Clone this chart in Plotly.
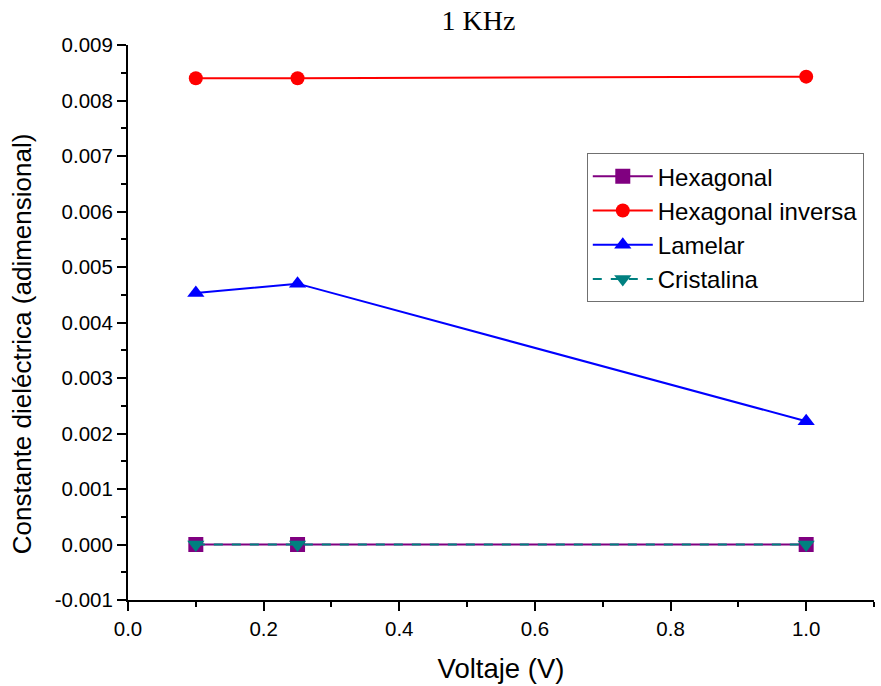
import plotly.graph_objects as go

# Voltage sweep (V)
voltaje = [0.1, 0.25, 1.0]

# Dielectric constant for each mesophase at 1 kHz
hexagonal = [0.0, 0.0, 0.0]
hexagonal_inversa = [0.00840, 0.00840, 0.00843]
lamelar = [0.00453, 0.00470, 0.00222]
cristalina = [0.0, 0.0, 0.0]

y_ticks = [-0.001, 0.000, 0.001, 0.002, 0.003, 0.004, 0.005, 0.006, 0.007, 0.008, 0.009]
y_tick_labels = ["-0.001", "0.000", "0.001", "0.002", "0.003", "0.004",
                 "0.005", "0.006", "0.007", "0.008", "0.009"]
x_ticks = [0.0, 0.2, 0.4, 0.6, 0.8, 1.0]
x_tick_labels = ["0.0", "0.2", "0.4", "0.6", "0.8", "1.0"]

sans = "Liberation Sans, Arial, sans-serif"

fig = go.Figure()
fig.add_trace(go.Scatter(
    x=voltaje, y=hexagonal, name="Hexagonal", mode="lines+markers",
    line=dict(color="#800080", width=2),
    marker=dict(symbol="square", size=15, color="#800080"),
))
fig.add_trace(go.Scatter(
    x=voltaje, y=hexagonal_inversa, name="Hexagonal inversa", mode="lines+markers",
    line=dict(color="#ff0000", width=2),
    marker=dict(symbol="circle", size=14, color="#ff0000"),
))
fig.add_trace(go.Scatter(
    x=voltaje, y=lamelar, name="Lamelar", mode="lines+markers",
    line=dict(color="#0000ff", width=2),
    marker=dict(symbol="triangle-up", size=15, color="#0000ff"),
))
fig.add_trace(go.Scatter(
    x=voltaje, y=cristalina, name="Cristalina", mode="lines+markers",
    line=dict(color="#008080", width=2, dash="dash"),
    marker=dict(symbol="triangle-down", size=15, color="#008080"),
))

axis_common = dict(
    showline=True, linecolor="black", linewidth=2,
    ticks="outside", ticklen=9, tickwidth=2, tickcolor="black",
    showgrid=False, zeroline=False, mirror=False,
    tickfont=dict(family=sans, size=20.5, color="black"),
)

fig.update_layout(
    width=881, height=686,
    margin=dict(l=128, r=7, t=45, b=86),
    paper_bgcolor="white", plot_bgcolor="white",
    title=dict(text="1 KHz", x=0.543, xanchor="center", y=0.970, yanchor="middle",
               font=dict(family="Liberation Serif, Times New Roman, serif", size=28, color="black")),
    xaxis=dict(
        range=[0, 1.1], tickvals=x_ticks, ticktext=x_tick_labels,
        minor=dict(ticks="outside", ticklen=5, tickwidth=2, tickcolor="black", dtick=0.1, tick0=0),
        title=dict(text="Voltaje (V)", font=dict(family=sans, size=27.5, color="black"), standoff=20),
        **axis_common,
    ),
    yaxis=dict(
        range=[-0.001, 0.009], tickvals=y_ticks, ticktext=y_tick_labels,
        minor=dict(ticks="outside", ticklen=5, tickwidth=2, tickcolor="black", dtick=0.0005, tick0=0),
        **axis_common,
    ),
    annotations=[dict(
        text="Constante dieléctrica (adimensional)",
        xref="paper", yref="paper", x=-0.142, y=0.461,
        xanchor="center", yanchor="middle", textangle=-90, showarrow=False,
        font=dict(family=sans, size=26, color="black"),
    )],
    legend=dict(
        x=0.615, y=0.805, xanchor="left", yanchor="top",
        bgcolor="white", bordercolor="#707070", borderwidth=1,
        font=dict(family=sans, size=24, color="black"),
        itemwidth=60, tracegroupgap=0,
    ),
    showlegend=True,
)

fig.write_html("out.html")
